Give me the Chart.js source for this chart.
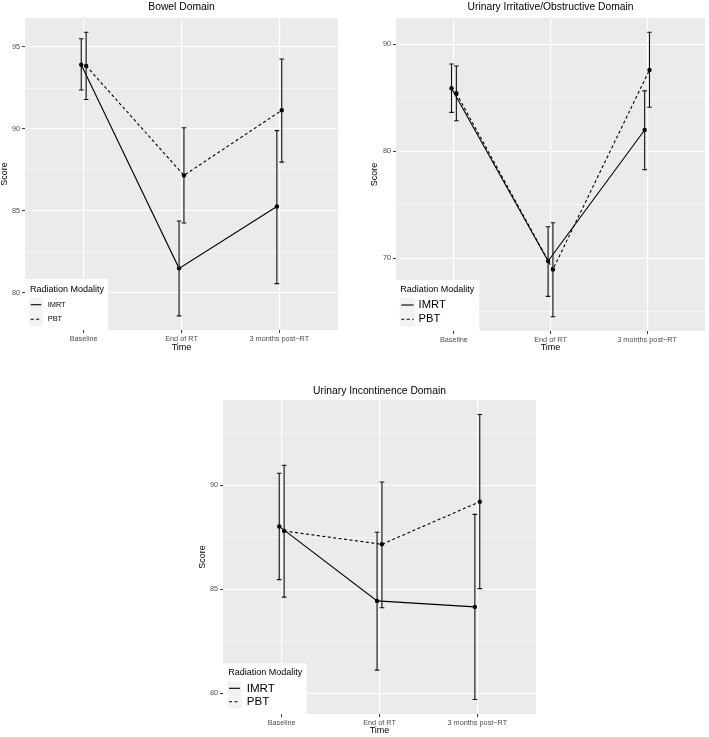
<!DOCTYPE html>
<html>
<head>
<meta charset="utf-8">
<script src="https://cdn.jsdelivr.net/npm/chart.js@4.4.1/dist/chart.umd.min.js"></script>
<style>
  body { margin: 0; background: #fff; width: 709px; height: 737px; position: relative; overflow: hidden; }
  canvas { position: absolute; }
</style>
</head>
<body>
<canvas id="bowel" width="355" height="360" style="left:0;top:0"></canvas>
<canvas id="irritative" width="354" height="360" style="left:355px;top:0"></canvas>
<canvas id="incontinence" width="360" height="377" style="left:190px;top:360px"></canvas>
<script>
const timepoints = ['Baseline', 'End of RT', '3 months post\u2212RT'];
const legendTitle = 'Radiation Modality';

// Bowel Domain
const bowelImrt = [93.92, 81.5, 85.27];
const bowelImrtLow = [92.38, 78.6, 80.57];
const bowelImrtHigh = [95.5, 84.39, 89.9];
const bowelPbt = [93.85, 87.17, 91.14];
const bowelPbtLow = [91.8, 84.27, 87.98];
const bowelPbtHigh = [95.9, 90.08, 94.27];
const bowelTicks = [80, 85, 90, 95];

// Urinary Irritative/Obstructive Domain
const irrImrt = [85.89, 69.75, 81.99];
const irrImrtLow = [83.64, 66.45, 78.29];
const irrImrtHigh = [88.16, 72.96, 85.64];
const irrPbt = [85.42, 68.97, 87.6];
const irrPbtLow = [82.86, 64.55, 84.11];
const irrPbtHigh = [87.97, 73.33, 91.12];
const irrTicks = [70, 80, 90];

// Urinary Incontinence Domain
const incImrt = [88.02, 84.44, 84.15];
const incImrtLow = [85.46, 81.11, 79.7];
const incImrtHigh = [90.58, 87.74, 88.6];
const incPbt = [87.8, 87.16, 89.21];
const incPbtLow = [84.62, 84.11, 85.03];
const incPbtHigh = [90.96, 90.16, 93.4];
const incTicks = [80, 85, 90];

const FONT = '"Liberation Sans", Arial, Helvetica, sans-serif';
const DODGE = 0.025;
const CAP = 0.024;

function points(vals, shift) {
  return vals.map((v, i) => ({ x: i + 1 + shift, y: v }));
}

// ggplot-like extras: grey panel, error bars, centred title, legend inside the panel
const panelDecor = {
  id: 'panelDecor',
  beforeDraw(chart) {
    const { ctx, chartArea: a } = chart;
    ctx.save();
    ctx.fillStyle = '#ebebeb';
    ctx.fillRect(a.left, a.top, a.width, a.height);
    ctx.restore();
  },
  afterDatasetsDraw(chart) {
    const { ctx, scales: { x, y } } = chart;
    ctx.save();
    ctx.strokeStyle = '#111';
    ctx.lineWidth = 1.1;
    chart.data.datasets.forEach(ds => {
      ds.data.forEach((p, i) => {
        const px = x.getPixelForValue(p.x);
        const l = x.getPixelForValue(p.x - CAP);
        const r = x.getPixelForValue(p.x + CAP);
        const lo = y.getPixelForValue(ds.errLow[i]);
        const hi = y.getPixelForValue(ds.errHigh[i]);
        ctx.beginPath();
        ctx.moveTo(px, lo); ctx.lineTo(px, hi);
        ctx.moveTo(l, lo); ctx.lineTo(r, lo);
        ctx.moveTo(l, hi); ctx.lineTo(r, hi);
        ctx.stroke();
      });
    });
    ctx.restore();
  },
  afterDraw(chart, args, o) {
    const { ctx, chartArea: a } = chart;
    ctx.save();
    ctx.fillStyle = '#000';
    ctx.font = '10.3px ' + FONT;
    ctx.textAlign = 'center';
    ctx.textBaseline = 'middle';
    ctx.fillText(o.title, (a.left + a.right) / 2, o.titleY);

    const lg = o.legend;
    const bx = a.left, by = a.bottom - lg.h;
    ctx.fillStyle = '#fff';
    ctx.fillRect(bx, by, lg.w, lg.h);
    ctx.fillStyle = '#000';
    ctx.textAlign = 'left';
    ctx.font = '9px ' + FONT;
    ctx.fillText(legendTitle, bx + lg.titleX, by + lg.titleY);
    chart.data.datasets.forEach((ds, i) => {
      const cy = by + lg.rowY[i];
      ctx.fillStyle = '#f2f2f2';
      ctx.fillRect(bx + lg.keyX0 - 1.5, cy - 7, lg.keyX1 - lg.keyX0 + 3, 14);
      ctx.strokeStyle = '#000';
      ctx.lineWidth = 1.1;
      ctx.setLineDash(ds.borderDash || []);
      ctx.beginPath();
      ctx.moveTo(bx + lg.keyX0, cy);
      ctx.lineTo(bx + lg.keyX1, cy);
      ctx.stroke();
      ctx.setLineDash([]);
      ctx.fillStyle = '#000';
      ctx.font = lg.labelSize + 'px ' + FONT;
      ctx.fillText(ds.label, bx + lg.labelX, cy);
    });
    ctx.restore();
  }
};

function makePanel(id, cfg) {
  const step = cfg.ticks[1] - cfg.ticks[0];
  const minor = cfg.ticks.map(v => v - step / 2).concat([cfg.ticks[cfg.ticks.length - 1] + step / 2]);
  const yTicks = cfg.ticks.concat(minor).filter(v => v >= cfg.yMin && v <= cfg.yMax).sort((p, q) => p - q);
  const isMajor = c => c.tick && cfg.ticks.includes(c.tick.value);
  const lineStyle = {
    borderColor: '#000', backgroundColor: '#000', borderWidth: 1.1, tension: 0, fill: false,
    pointRadius: 2.2, pointBackgroundColor: '#000', pointBorderColor: '#000', pointBorderWidth: 0
  };
  return new Chart(document.getElementById(id), {
    type: 'line',
    data: {
      datasets: [
        Object.assign({ label: 'IMRT', data: points(cfg.imrt, -DODGE), errLow: cfg.imrtLow, errHigh: cfg.imrtHigh, borderDash: [] }, lineStyle),
        Object.assign({ label: 'PBT', data: points(cfg.pbt, DODGE), errLow: cfg.pbtLow, errHigh: cfg.pbtHigh, borderDash: [3, 2.5] }, lineStyle)
      ]
    },
    options: {
      responsive: false,
      animation: false,
      devicePixelRatio: 1,
      layout: { padding: cfg.padding },
      plugins: {
        colors: { enabled: false },
        legend: { display: false },
        tooltip: { enabled: false },
        panelDecor: { title: cfg.title, titleY: cfg.titleY, legend: cfg.legend }
      },
      scales: {
        x: {
          type: 'linear', min: 0.4, max: 3.6, bounds: 'data',
          afterBuildTicks: ax => { ax.ticks = timepoints.map((_, i) => ({ value: i + 1 })); },
          afterFit: s => { s.height = cfg.xAxisH; },
          ticks: {
            callback: v => timepoints[v - 1],
            font: { size: 7.3, family: FONT }, color: '#4d4d4d',
            padding: 2, autoSkip: false, maxRotation: 0
          },
          grid: { color: '#fff', lineWidth: 1.1, tickLength: 3, tickColor: '#333', tickWidth: 1 },
          border: { display: false },
          title: {
            display: true, text: 'Time', color: '#000',
            font: { size: 9, family: FONT, lineHeight: '12px' },
            padding: { top: 0, bottom: cfg.timePad }
          }
        },
        y: {
          type: 'linear', min: cfg.yMin, max: cfg.yMax, bounds: 'data',
          afterBuildTicks: ax => { ax.ticks = yTicks.map(v => ({ value: v })); },
          afterFit: s => { s.width = cfg.yAxisW; },
          ticks: {
            callback: v => cfg.ticks.includes(v) ? String(v) : '',
            font: { size: 7.3, family: FONT }, color: '#4d4d4d',
            padding: 2, autoSkip: false
          },
          grid: {
            color: '#fff',
            lineWidth: c => isMajor(c) ? 1.1 : 0.55,
            tickLength: 3,
            tickColor: c => isMajor(c) ? '#333' : 'rgba(0,0,0,0)',
            tickWidth: 1
          },
          border: { display: false },
          title: {
            display: true, text: 'Score', color: '#000',
            font: { size: 9, family: FONT, lineHeight: '10px' },
            padding: { top: cfg.scorePad, bottom: 0 }
          }
        }
      }
    },
    plugins: [panelDecor]
  });
}

makePanel('bowel', {
  title: 'Bowel Domain', titleY: 7.3,
  imrt: bowelImrt, imrtLow: bowelImrtLow, imrtHigh: bowelImrtHigh,
  pbt: bowelPbt, pbtLow: bowelPbtLow, pbtHigh: bowelPbtHigh,
  ticks: bowelTicks, yMin: 77.74, yMax: 96.77,
  padding: { top: 18, left: 0, right: 17, bottom: 0 },
  yAxisW: 25, xAxisH: 30, scorePad: 0, timePad: 6.5,
  legend: { w: 83, h: 51, titleX: 5, titleY: 10.3, rowY: [25.7, 40.3], keyX0: 5.7, keyX1: 16.3, labelX: 22.7, labelSize: 7.4 }
});

makePanel('irritative', {
  title: 'Urinary Irritative/Obstructive Domain', titleY: 7.5,
  imrt: irrImrt, imrtLow: irrImrtLow, imrtHigh: irrImrtHigh,
  pbt: irrPbt, pbtLow: irrPbtLow, pbtHigh: irrPbtHigh,
  ticks: irrTicks, yMin: 63.22, yMax: 92.45,
  padding: { top: 18, left: 0, right: 1, bottom: 0 },
  yAxisW: 41, xAxisH: 29, scorePad: 15, timePad: 6,
  legend: { w: 83.3, h: 51, titleX: 4.3, titleY: 9.3, rowY: [25, 39.3], keyX0: 5.3, keyX1: 17.6, labelX: 22.6, labelSize: 11.2 }
});

makePanel('incontinence', {
  title: 'Urinary Incontinence Domain', titleY: 30.7,
  imrt: incImrt, imrtLow: incImrtLow, imrtHigh: incImrtHigh,
  pbt: incPbt, pbtLow: incPbtLow, pbtHigh: incPbtHigh,
  ticks: incTicks, yMin: 79.0, yMax: 94.1,
  padding: { top: 40, left: 0, right: 14, bottom: 0 },
  yAxisW: 33, xAxisH: 23, scorePad: 8, timePad: 0,
  legend: { w: 83.7, h: 50.7, titleX: 5.3, titleY: 9, rowY: [25, 38.4], keyX0: 6, keyX1: 17, labelX: 23.7, labelSize: 11.6 }
});
</script>
</body>
</html>
